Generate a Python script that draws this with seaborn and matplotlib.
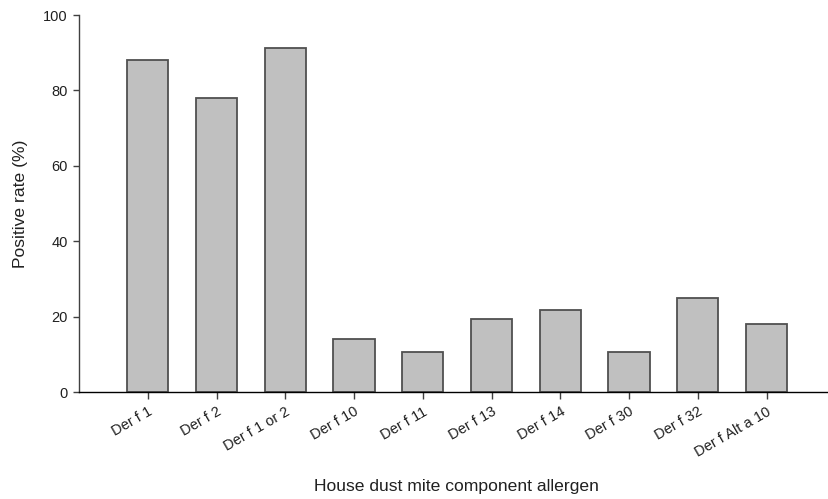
import matplotlib
matplotlib.use("Agg")
import matplotlib.pyplot as plt
import seaborn as sns
import pandas as pd

# Positive rate (%) for each house dust mite component allergen
allergens = ["Der f 1", "Der f 2", "Der f 1 or 2", "Der f 10", "Der f 11",
             "Der f 13", "Der f 14", "Der f 30", "Der f 32", "Der f Alt a 10"]
positive_rate = [88.1, 78.1, 91.2, 14.1, 10.5, 19.3, 21.7, 10.5, 24.9, 18.0]
y_ticks = [0, 20, 40, 60, 80, 100]

sns.set_theme(style="ticks")
plt.rcParams["font.family"] = ["Liberation Sans", "DejaVu Sans"]

df = pd.DataFrame({"allergen": allergens, "rate": positive_rate})

fig = plt.figure(figsize=(8.29, 4.99), dpi=100)
ax = fig.add_axes([0.0953, 0.2144, 0.904, 0.7555])

sns.barplot(data=df, x="allergen", y="rate", order=allergens, ax=ax,
            color="#c0c0c0", saturation=1, width=0.6,
            edgecolor="#505050", linewidth=1.3)

ax.set_xlim(-1.0, 9.9)
ax.set_ylim(0, 100)
ax.set_yticks(y_ticks)
ax.set_yticklabels([str(t) for t in y_ticks])
ax.set_xticks(range(len(allergens)))
ax.set_xticklabels(allergens, rotation=30, ha="right", rotation_mode="anchor")

for side in ("top", "right"):
    ax.spines[side].set_visible(False)
ax.spines["left"].set_color("#404040")
ax.spines["bottom"].set_color("black")
ax.spines["left"].set_linewidth(1.0)
ax.spines["bottom"].set_linewidth(1.0)

ax.tick_params(axis="y", length=4, width=1, color="#404040",
               labelsize=10.5, pad=4, labelcolor="#202020")
ax.tick_params(axis="x", length=5, width=1, color="#404040",
               labelsize=10.5, pad=4, labelcolor="#202020")

ax.set_xlabel("House dust mite component allergen", fontsize=12.6,
              color="#202020")
ax.xaxis.set_label_coords(0.503, -0.232)
ax.set_ylabel("Positive rate (%)", fontsize=12.6, color="#202020", labelpad=11)

fig.savefig("out.png", dpi=100)
